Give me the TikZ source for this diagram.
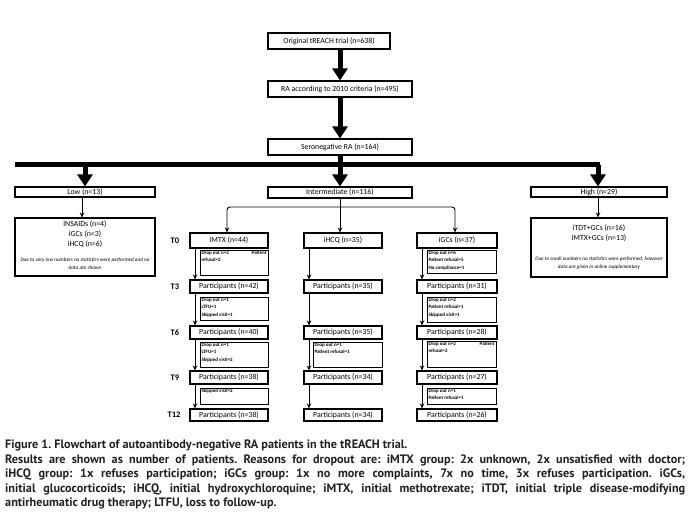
\documentclass[tikz,border=0pt]{standalone}
\usepackage{fontspec}
\setmainfont{Carlito}
\newfontfamily\capfont{PT Sans}
\usetikzlibrary{arrows.meta,calc}
\definecolor{captext}{HTML}{231F20}
\newcommand\mybox[6][]{\node[box,#1,minimum width={#5-#3},minimum height={#6-#4}] (#2) at ({(#3+#5)/2},{(#4+#6)/2}) {};}
\newcommand\dropbox[6]{%
  \pgfmathsetlengthmacro\dbw{#4-#2-3}%
  \pgfmathsetlengthmacro\dbh{#5-#3-2}%
  \node[dbox,minimum width={#4-#2},minimum height={#5-#3}] (#1) at ({(#2+#4)/2},{(#3+#5)/2}) {\parbox[c][\dbh][t]{\dbw}{#6}};}
\begin{document}
\begin{tikzpicture}[x=1pt,y=-1pt,
  box/.style={draw,line width=1.1pt,inner sep=0pt,font=\fontsize{7.8}{8}\selectfont},
  dbox/.style={draw,line width=0.7pt,inner sep=0pt,font=\bfseries\fontsize{5}{7.4}\selectfont},
  txt/.style={inner sep=0pt,font=\fontsize{7.8}{8}\selectfont},
  note/.style={inner sep=0pt,font=\itshape\fontsize{5.2}{6}\selectfont},
  tlab/.style={inner sep=0pt,font=\bfseries\fontsize{8.5}{9}\selectfont},
  thick arrow/.style={line width=5pt,-{Triangle[length=12pt,width=15pt]}},
  thin arrow/.style={line width=0.9pt,-{Stealth[length=5pt,width=4.5pt]}}]
\useasboundingbox (0,0) rectangle (691,529);

% top chain
\mybox{orig}{268}{33}{390}{49}
\mybox{ra}{268}{81}{412}{97}
\mybox{sero}{268}{139}{412}{155}
\node[txt] (origt) at (orig) {Original tREACH trial (n=638)};
\node[txt] (rat) at (ra) {RA according to 2010 criteria (n=495)};
\node[txt] (serot) at (sero) {Seronegative RA (n=164)};
\draw[thick arrow] (orig.south -| 340,0) -- (ra.north -| 340,0);
\draw[thick arrow] (ra.south -| 340,0) -- (sero.north -| 340,0);

% level boxes
\mybox{low}{15}{187}{155}{197}
\mybox{inter}{268}{187}{412}{198}
\mybox{high}{531}{187}{667}{197}
\node[txt] (lowt) at (low) {Low (n=13)};
\node[txt] (intert) at (inter) {Intermediate (n=116)};
\node[txt] (hight) at (high) {High (n=29)};

\coordinate (barL) at (15,165);
\coordinate (barR) at (600,165);
\coordinate (barM) at (340,165);
\draw[line width=5pt] (barL) -- (barR);
\draw[line width=5pt] (sero.south -| barM) -- (barM);
\draw[thick arrow] (85,165) -- (low.north -| 85,0);
\draw[thick arrow] (barM) -- (inter.north -| barM);
\draw[thick arrow] (598,165) -- (high.north -| 598,0);

% low / high details
\mybox{lowd}{15}{218}{155}{276}
\mybox{highd}{531}{218}{667}{277}
\draw[thin arrow] (low.south -| 82,0) -- (lowd.north -| 82,0);
\draw[thin arrow] (high.south -| 598,0) -- (highd.north -| 598,0);
\node[txt] (l1) at (85,224) {iNSAIDs (n=4)};
\node[txt] (l2) at (85,234) {iGCs (n=3)};
\node[txt] (l3) at (85,244.5) {iHCQ (n=6)};
\node[note] (l4) at (85,260) {Due to very low numbers no statistics were performed and no};
\node[note] (l5) at (85,267.5) {data are shown};
\node[txt] (h1) at (599,228.5) {iTDT+GCs (n=16)};
\node[txt] (h2) at (599,238.5) {iMTX+GCs (n=13)};
\node[note] (h3) at (599,259) {Due to small numbers no statistics were performed, however};
\node[note] (h4) at (599,267.5) {data are given in online supplementary};

% intermediate arms
\mybox{imtx}{190}{233}{268}{248}
\mybox{ihcq}{304}{233}{382}{248}
\mybox{igcs}{417}{233}{497}{248}
\node[txt] (imtxt) at (imtx) {iMTX (n=44)};
\node[txt] (ihcqt) at (ihcq) {iHCQ (n=35)};
\node[txt] (igcst) at (igcs) {iGCs (n=37)};
\coordinate (split) at (340,207);
\draw[thin arrow] (inter.south -| barM) -- (ihcq.north -| barM);
\draw[thin arrow,rounded corners=3pt] (split) -| (imtx.north -| 227,0);
\draw[thin arrow,rounded corners=3pt] (split) -| (igcs.north -| 455,0);

% participants rows
\foreach \c/\xa/\xb in {L/190/268,M/304/382,R/417/497}{
  \mybox{p3\c}{\xa}{280}{\xb}{293}
  \mybox{p6\c}{\xa}{326}{\xb}{339}
  \mybox{p9\c}{\xa}{371}{\xb}{384}
  \mybox{p12\c}{\xa}{409}{\xb}{421}
}
\node[txt] at (p3L) {Participants (n=42)};
\node[txt] at (p6L) {Participants (n=40)};
\node[txt] at (p9L) {Participants (n=38)};
\node[txt] at (p12L) {Participants (n=38)};
\node[txt] at (p3M) {Participants (n=35)};
\node[txt] at (p6M) {Participants (n=35)};
\node[txt] at (p9M) {Participants (n=34)};
\node[txt] at (p12M) {Participants (n=34)};
\node[txt] at (p3R) {Participants (n=31)};
\node[txt] at (p6R) {Participants (n=28)};
\node[txt] at (p9R) {Participants (n=27)};
\node[txt] at (p12R) {Participants (n=26)};

% column arrows
\foreach \c/\x/\t in {L/195/imtx,M/309/ihcq,R/422/igcs}{
  \draw[thin arrow] (\t.south -| \x,0) -- (p3\c.north -| \x,0);
  \draw[thin arrow] (p3\c.south -| \x,0) -- (p6\c.north -| \x,0);
  \draw[thin arrow] (p6\c.south -| \x,0) -- (p9\c.north -| \x,0);
  \draw[thin arrow] (p9\c.south -| \x,0) -- (p12\c.north -| \x,0);
}

% dropout boxes
\dropbox{dL0}{200}{250}{268}{275}{Drop out n=2\hfill Patient\\refusal=2}
\dropbox{dL3}{200}{297}{268}{320}{Drop out n=1\\LTFU=1\\Skipped visit=1}
\dropbox{dL6}{200}{342}{268}{367}{Drop out n=1\\LTFU=1\\Skipped visit=2}
\dropbox{dL9}{200}{388}{268}{404}{Skipped visit=2}
\dropbox{dM6}{313}{342}{382}{367}{Drop out n=1\\Patient refusal=1}
\dropbox{dR0}{427}{250}{496}{273}{Drop out n=6\\Patient refusal=5\\No compliance=1}
\dropbox{dR3}{427}{297}{496}{322}{Drop out n=2\\Patient refusal=1\\Skipped visit=1}
\dropbox{dR6}{427}{341}{496}{367}{Drop out n=2\hfill Patient\\refusal=2}
\dropbox{dR9}{427}{388}{496}{404}{Drop out n=1\\Patient refusal=1}

% time labels
\node[tlab] (t0) at (175,241) {T0};
\node[tlab] (t3) at (175,286.5) {T3};
\node[tlab] (t6) at (175,332.5) {T6};
\node[tlab] (t9) at (175,378) {T9};
\node[tlab] (t12) at (174,415) {T12};

% caption
\node[anchor=north west,inner sep=0pt,text width=680pt,align=justify,text=captext,
  font=\capfont\bfseries\fontsize{12.2}{14.5}\selectfont] (cap) at (5,440)
{\frenchspacing\hyphenpenalty=10000\tolerance=10000 Figure 1. Flowchart of autoantibody-negative RA patients in the tREACH trial.\\
Results are shown as number of patients. Reasons for dropout are: iMTX group: 2x unknown, 2x unsatisfied with doctor;\linebreak
iHCQ group: 1x refuses participation; iGCs group: 1x no more complaints, 7x no time, 3x refuses participation. iGCs,\linebreak
initial glucocorticoids; iHCQ, initial hydroxychloroquine; iMTX, initial methotrexate; iTDT, initial triple disease-modifying\linebreak
antirheumatic drug therapy; LTFU, loss to follow-up.};
\end{tikzpicture}
\end{document}
